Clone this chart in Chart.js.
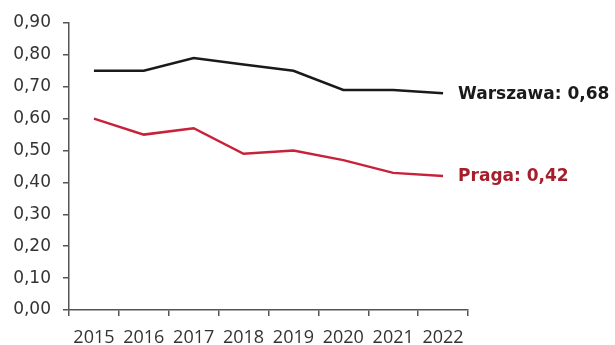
<!DOCTYPE html>
<html>
<head>
<meta charset="utf-8">
<script src="https://cdn.jsdelivr.net/npm/chart.js@4"></script>
<style>
  html, body { margin: 0; padding: 0; background: #fff; }
  #wrap { width: 615px; height: 345px; position: relative; }
</style>
</head>
<body>
<div id="wrap"><canvas id="chart"></canvas></div>
<script>
const years = ['2015', '2016', '2017', '2018', '2019', '2020', '2021', '2022'];
const warszawa = [0.75, 0.75, 0.79, 0.77, 0.75, 0.69, 0.69, 0.68];
const praga = [0.60, 0.55, 0.57, 0.49, 0.50, 0.47, 0.43, 0.42];
const yTicks = [0, 0.1, 0.2, 0.3, 0.4, 0.5, 0.6, 0.7, 0.8, 0.9];

const fmt = v => v.toFixed(2).replace('.', ',');

// writes "Name: value" just right of each line's last point
const endLabels = {
  id: 'endLabels',
  afterDatasetsDraw(chart) {
    const ctx = chart.ctx;
    chart.data.datasets.forEach((ds, i) => {
      const meta = chart.getDatasetMeta(i);
      const last = meta.data[meta.data.length - 1];
      const value = ds.data[ds.data.length - 1];
      ctx.save();
      ctx.font = 'bold 17px "DejaVu Sans"';
      ctx.fillStyle = ds.labelColor;
      ctx.textAlign = 'left';
      ctx.textBaseline = 'middle';
      ctx.fillText(ds.label + ': ' + fmt(value), last.x + 15, last.y + 1);
      ctx.restore();
    });
  }
};

new Chart(document.getElementById('chart'), {
  type: 'line',
  data: {
    labels: years,
    datasets: [
      {
        label: 'Warszawa',
        data: warszawa,
        borderColor: '#1a1a1a',
        labelColor: '#1a1a1a',
        borderWidth: 2.5,
        pointRadius: 0,
        tension: 0
      },
      {
        label: 'Praga',
        data: praga,
        borderColor: '#c8223a',
        labelColor: '#a51e2c',
        borderWidth: 2.5,
        pointRadius: 0,
        tension: 0
      }
    ]
  },
  options: {
    responsive: true,
    maintainAspectRatio: false,
    animation: false,
    layout: { padding: { top: 23, right: 147, bottom: 0, left: 0 } },
    plugins: {
      legend: { display: false },
      tooltip: { enabled: false }
    },
    scales: {
      x: {
        offset: true,
        grid: { offset: true, drawOnChartArea: false, drawTicks: true, tickLength: 6, color: '#555', lineWidth: 1.5 },
        border: { color: '#555', width: 1.5 },
        ticks: { color: '#333', font: { family: 'Open Sans', size: 18 }, padding: 11, maxRotation: 0 },
        afterFit(scale) { scale.height = 35; }
      },
      y: {
        min: 0,
        max: 0.9,
        afterBuildTicks(scale) { scale.ticks = yTicks.map(v => ({ value: v })); },
        grid: { drawOnChartArea: false, drawTicks: true, tickLength: 6, color: '#555', lineWidth: 1.5 },
        border: { color: '#555', width: 1.5 },
        ticks: {
          color: '#333',
          font: { family: 'DejaVu Sans', size: 17 },
          padding: 12,
          callback: v => fmt(v)
        },
        afterFit(scale) { scale.width = 69; }
      }
    }
  },
  plugins: [endLabels]
});
</script>
</body>
</html>
